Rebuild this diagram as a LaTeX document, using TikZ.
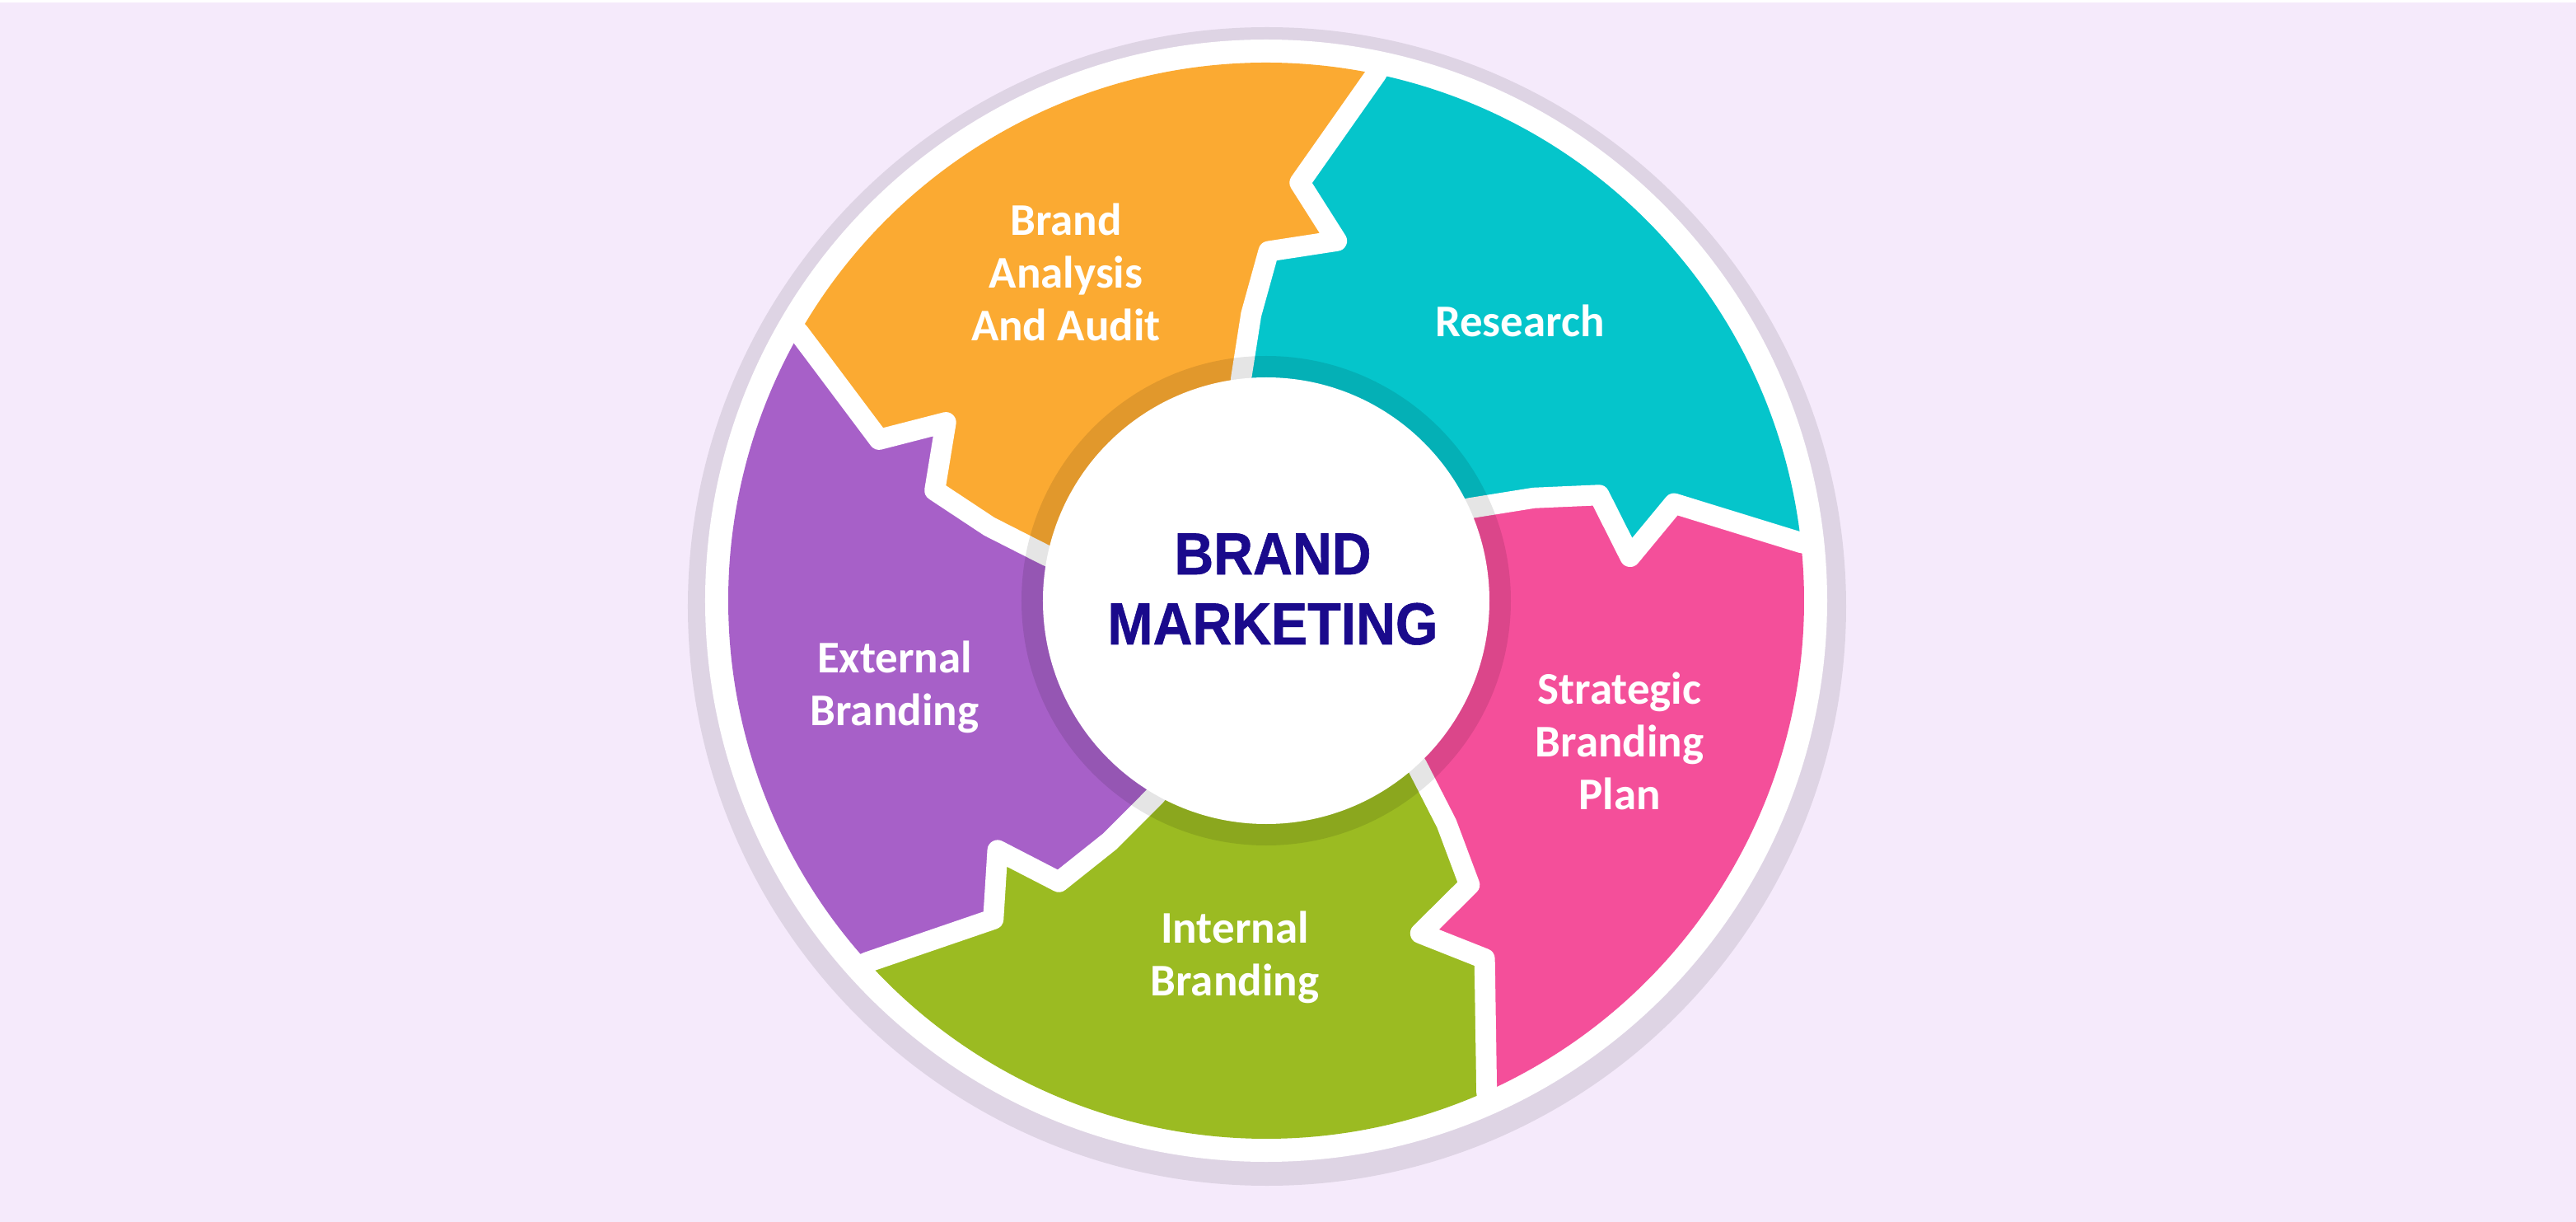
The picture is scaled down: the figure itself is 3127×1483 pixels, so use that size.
\documentclass[tikz,border=0pt]{standalone}
\usepackage{fontspec}
\newfontfamily\lblfamily{Carlito}
\newfontfamily\ttlfamily{Liberation Sans Bold}[FakeStretch=0.92, FakeBold=0.8]
\definecolor{bgc}{HTML}{F5EAFB}
\definecolor{ringc}{HTML}{DED4E4}
\definecolor{auditc}{HTML}{FBAA32}
\definecolor{researchc}{HTML}{05C5CB}
\definecolor{planc}{HTML}{F44F9A}
\definecolor{internalc}{HTML}{9BBB22}
\definecolor{externalc}{HTML}{A760C8}
\definecolor{titlec}{HTML}{1A0A8C}
\begin{document}
\begin{tikzpicture}[x=1pt, y=1pt,
    band/.style={white, line width=25, line join=round},
    lbl/.style={white, align=center, anchor=base, inner sep=0,
      font=\lblfamily\bfseries\fontsize{55}{64}\selectfont},
    ttl/.style={titlec, align=center, anchor=base, inner sep=0,
      font=\ttlfamily\fontsize{72}{85}\selectfont}]
    % background
    \fill[bgc] (-1537,-754) rectangle (1590,729);
    \fill[white] (-1537,726) rectangle (1590,729);
    \fill[ringc] (1,-7) circle (703);
    \fill[white] (0,0) circle (681);
    % coloured steps
    \foreach \a/\c in {89.6/researchc, 17.6/planc, -54.4/internalc, -126.4/externalc, -198.4/auditc}
        \fill[\c] (0,0) -- ({\a+6.8}:272) -- ({\a+3.4}:348) -- (\a:424) -- ({\a-10.7}:445)
            -- ({\a-4.2}:509) -- ({\a-11.4}:653)
            arc[start angle={\a-11.4}, end angle={\a-83.4}, radius=653]
            -- ({\a-76.2}:509) -- ({\a-82.7}:445) -- ({\a-72}:424) -- ({\a-68.6}:348)
            -- ({\a-65.2}:272) -- cycle;
    % white arrow edges
    \foreach \a in {89.6,17.6,-54.4,-126.4,-198.4}
        \draw[band] ({\a+8.2}:240) -- ({\a+6.8}:272) -- ({\a+3.4}:348) -- (\a:424)
            -- ({\a-10.7}:445) -- ({\a-4.2}:509) -- ({\a-11.4}:653) -- ({\a-12}:675);
    % hub
    \fill[black, opacity=0.1] (0,0) circle (297);
    \fill[white] (0,0) circle (271);
    % labels (base = last line)
    \node[ttl] (title) at (8,-53) {BRAND\\MARKETING};
    \node[lbl] (audit) at (-243,315) {Brand\\Analysis\\And Audit};
    \node[lbl] (research) at (308,320) {Research};
    \node[lbl] (plan) at (429,-253) {Strategic\\Branding\\Plan};
    \node[lbl] (external) at (-451,-151) {External\\Branding};
    \node[lbl] (internal) at (-38,-479) {Internal\\Branding};
\end{tikzpicture}
\end{document}
